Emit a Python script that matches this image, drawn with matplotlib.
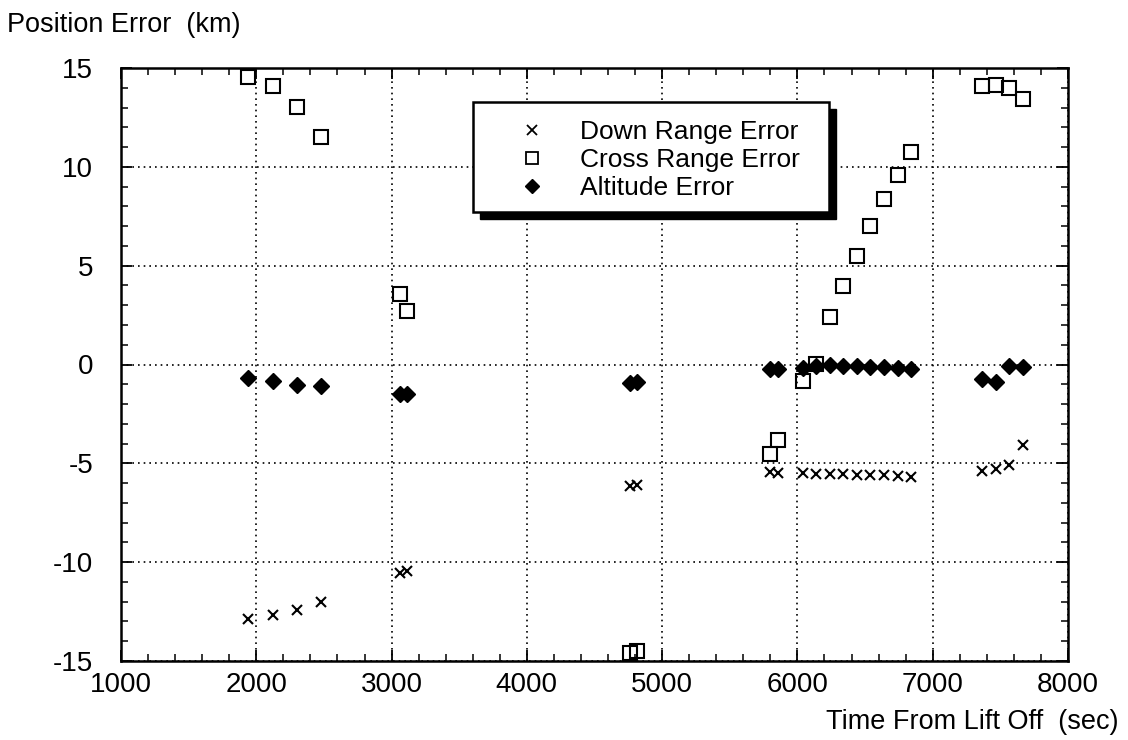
import matplotlib
matplotlib.use("Agg")
import matplotlib.pyplot as plt
from matplotlib.patches import Rectangle
from matplotlib.lines import Line2D
from matplotlib.ticker import MultipleLocator

plt.rcParams['font.family'] = ['Liberation Sans', 'DejaVu Sans']

# ---- data ----
time_s = [1940, 2120, 2300, 2475,
          3060, 3115,
          4765, 4815,
          5800, 5855,
          6040, 6140, 6240, 6340, 6440, 6540, 6640, 6740, 6840,
          7365, 7465, 7565, 7665]

down_range = [-12.85, -12.65, -12.4, -12.0,
              -10.55, -10.45,
              -6.15, -6.1,
              -5.45, -5.5,
              -5.5, -5.55, -5.55, -5.55, -5.6, -5.6, -5.6, -5.65, -5.7,
              -5.4, -5.3, -5.1, -4.05]

cross_range = [14.55, 14.1, 13.05, 11.5,
               3.55, 2.7,
               -14.6, -14.5,
               -4.55, -3.8,
               -0.85, 0.05, 2.4, 3.95, 5.5, 7.0, 8.35, 9.6, 10.75,
               14.1, 14.15, 14.0, 13.45]

altitude = [-0.7, -0.85, -1.05, -1.1,
            -1.47, -1.47,
            -0.95, -0.88,
            -0.22, -0.22,
            -0.17, -0.1, -0.05, -0.08, -0.08, -0.15, -0.13, -0.17, -0.25,
            -0.75, -0.9, -0.1, -0.15]

series_labels = ["Down Range Error", "Cross Range Error", "Altitude Error"]
x_ticks = [1000, 2000, 3000, 4000, 5000, 6000, 7000, 8000]
y_ticks = [-15, -10, -5, 0, 5, 10, 15]

# ---- figure ----
W, H = 1128, 740
fig = plt.figure(figsize=(W / 100, H / 100), dpi=100)
fig.patch.set_facecolor('white')

def fx(px):
    return px / W

def fy(py):
    return 1 - py / H

ax_l, ax_r, ax_t, ax_b = 121, 1068, 68, 661
ax = fig.add_axes([fx(ax_l), fy(ax_b), (ax_r - ax_l) / W, (ax_b - ax_t) / H])

ax.plot(time_s, down_range, linestyle='none', marker='x', markersize=7.5,
        markeredgewidth=1.5, color='black', zorder=3)
ax.plot(time_s, cross_range, linestyle='none', marker='s', markersize=10,
        markerfacecolor='none', markeredgewidth=1.5, color='black', zorder=4)
ax.plot(time_s, altitude, linestyle='none', marker='D', markersize=8,
        color='black', zorder=5)

ax.set_xlim(x_ticks[0], x_ticks[-1])
ax.set_ylim(y_ticks[0], y_ticks[-1])
ax.set_xticks(x_ticks)
ax.set_yticks(y_ticks)
ax.set_xticklabels([str(v) for v in x_ticks])
ax.set_yticklabels([str(v) for v in y_ticks])
ax.xaxis.set_minor_locator(MultipleLocator(200))
ax.yaxis.set_minor_locator(MultipleLocator(1))

ax.tick_params(which='both', direction='in', top=True, right=True, color='black')
ax.tick_params(which='major', length=8, width=1.3)
ax.tick_params(which='minor', length=5, width=1.1)
ax.tick_params(axis='x', which='major', labelsize=20, pad=8)
ax.tick_params(axis='y', which='major', labelsize=20, pad=20)

for s in ax.spines.values():
    s.set_linewidth(1.8)
    s.set_color('black')

ax.grid(True, which='major', color='black', linestyle=(0, (1, 2.4)), linewidth=1.2)
ax.set_axisbelow(True)

# axis titles
fig.text(fx(7), fy(25), "Position Error  (km)", fontsize=19.5, ha='left', va='center')
fig.text(fx(1118), fy(722), "Time From Lift Off  (sec)", fontsize=19.5, ha='right', va='center')

# legend frame with solid drop shadow
lx0, ly0, lx1, ly1 = 473, 102, 829, 212
sh = 7
shadow = Rectangle((fx(lx0 + sh), fy(ly1 + sh)), (lx1 - lx0) / W, (ly1 - ly0) / H,
                   transform=fig.transFigure, facecolor='black', edgecolor='black',
                   zorder=6)
frame = Rectangle((fx(lx0), fy(ly1)), (lx1 - lx0) / W, (ly1 - ly0) / H,
                  transform=fig.transFigure, facecolor='white', edgecolor='black',
                  linewidth=1.8, zorder=7)
fig.add_artist(shadow)
fig.add_artist(frame)

handles = [
    Line2D([], [], linestyle='none', marker='x', markersize=6.5, markeredgewidth=1.3, color='black'),
    Line2D([], [], linestyle='none', marker='s', markersize=9, markerfacecolor='none',
           markeredgewidth=1.3, color='black'),
    Line2D([], [], linestyle='none', marker='D', markersize=7.5, color='black'),
]
leg = fig.legend(handles, series_labels, loc='upper left',
                 bbox_to_anchor=(fx(519), fy(120)), bbox_transform=fig.transFigure,
                 frameon=False, fontsize=19, handlelength=0.95, handletextpad=1.35,
                 labelspacing=0.16, borderpad=0, borderaxespad=0)
leg.set_zorder(8)

fig.savefig("out.png", dpi=100, facecolor='white')
